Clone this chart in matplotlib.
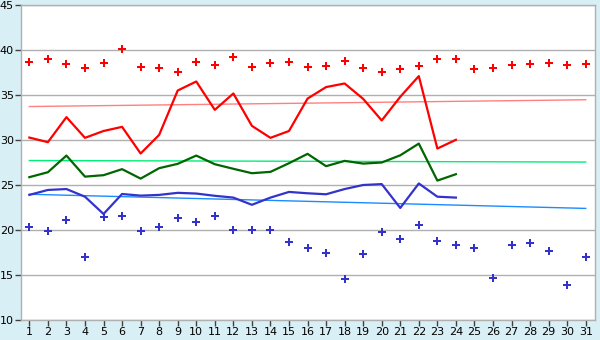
import numpy as np
import matplotlib
matplotlib.use("Agg")
import matplotlib.pyplot as plt

days = np.arange(1, 32)
line_days = np.arange(1, 25)

# upper markers (red) for days 1-31
high_pts = [38.66, 39.0, 38.44, 38.0, 38.55, 40.1, 38.1, 37.95, 37.55, 38.66,
            38.33, 39.2, 38.1, 38.58, 38.66, 38.1, 38.2, 38.77, 38.0, 37.58,
            37.88, 38.2, 39.0, 39.0, 37.88, 38.0, 38.33, 38.47, 38.55, 38.33, 38.44]
# lower markers (blue) for days 1-31
low_pts = [20.38, 19.86, 21.08, 16.97, 21.4, 21.55, 19.86, 20.3, 21.3, 20.86,
           21.6, 20.0, 20.0, 20.0, 18.64, 17.97, 17.41, 14.52, 17.3, 19.75,
           18.97, 20.6, 18.82, 18.3, 17.97, 14.7, 18.3, 18.53, 17.71, 13.93, 16.97]

# lines for days 1-24
red_line = [30.27, 29.76, 32.54, 30.24, 31.0, 31.46, 28.5, 30.57, 35.5, 36.5,
            33.35, 35.17, 31.57, 30.24, 31.0, 34.6, 35.88, 36.28, 34.57, 32.17,
            34.8, 37.1, 29.05, 30.02]
green_line = [25.87, 26.42, 28.27, 25.93, 26.09, 26.76, 25.71, 26.87, 27.35, 28.27,
              27.31, 26.8, 26.31, 26.46, 27.42, 28.46, 27.09, 27.68, 27.38, 27.5,
              28.3, 29.6, 25.49, 26.2]
blue_line = [23.9, 24.45, 24.55, 23.7, 21.78, 24.0, 23.82, 23.9, 24.13, 24.05,
             23.8, 23.6, 22.8, 23.6, 24.23, 24.08, 23.97, 24.55, 25.0, 25.1,
             22.45, 25.17, 23.7, 23.6]

# trend lines (start and end value, day 1 to day 31)
trend_days = [1, 31]
red_trend = [33.72, 34.47]
green_trend = [27.72, 27.55]
blue_trend = [23.97, 22.4]

bg = '#d9eff6'
grid_col = '#b0b0b0'

fig = plt.figure(figsize=(6, 3.4), dpi=100, facecolor=bg)
ax = fig.add_axes([21 / 600, 1 - 320 / 340, 574 / 600, 315 / 340])
ax.set_facecolor('white')

ax.plot(trend_days, red_trend, color='#ff8080', lw=1.0, zorder=2)
ax.plot(trend_days, green_trend, color='#00ee77', lw=1.0, zorder=2)
ax.plot(trend_days, blue_trend, color='#1a8cff', lw=1.0, zorder=2)

ax.plot(line_days, red_line, color='#ff0000', lw=1.6, zorder=3)
ax.plot(line_days, green_line, color='#006600', lw=1.6, zorder=3)
ax.plot(line_days, blue_line, color='#3333cc', lw=1.6, zorder=3)

ax.plot(days, high_pts, ls='none', marker='P', ms=6, color='#ff0000', mew=0, zorder=4)
ax.plot(days, low_pts, ls='none', marker='P', ms=6, color='#3333cc', mew=0, zorder=4)

ax.set_xlim(0.55, 31.5)
ax.set_ylim(10, 45)
ax.set_xticks(days)
ax.set_yticks(np.arange(10, 46, 5))
ax.yaxis.grid(True, color=grid_col, lw=1.0)
ax.set_axisbelow(True)
for s in ax.spines.values():
    s.set_color(grid_col)
    s.set_linewidth(1.0)
ax.tick_params(axis='both', colors='#404040', labelcolor='black', labelsize=8,
               length=4, width=1, pad=1)

fig.savefig('out.png', dpi=100, facecolor=bg)
